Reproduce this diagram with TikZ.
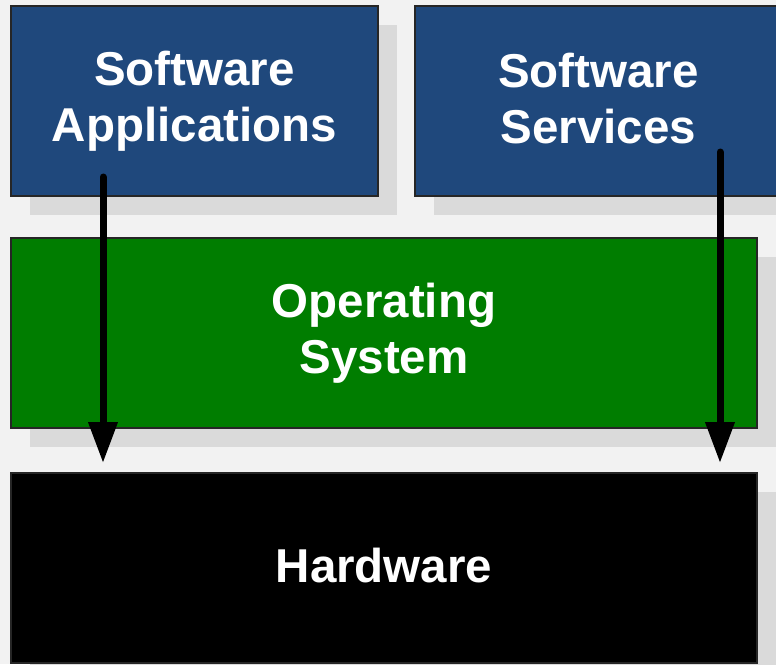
\documentclass[tikz,border=0pt]{standalone}
\usepackage{fontspec}
\setmainfont{Liberation Sans}
\usetikzlibrary{arrows.meta}
\definecolor{pagebg}{HTML}{F2F2F2}
\definecolor{shade}{HTML}{DADADA}
\definecolor{appblue}{HTML}{1F487C}
\definecolor{osgreen}{HTML}{007D00}
% uniform line box so every label sits on the same cap-height centre
\newcommand\capstrut{\rule[-6pt]{0pt}{40pt}}
\tikzset{
  layer/.style={draw=black!85, line width=1.1pt, text=white,
    font=\fontsize{47.5}{56}\selectfont\bfseries, align=center,
    inner sep=0pt, outer sep=0pt},
  dropshade/.style={fill=shade, draw=none},
  callarrow/.style={line width=7pt, line cap=round,
    -{Triangle[length=41pt,width=28pt]}},
}
\begin{document}
\begin{tikzpicture}[x=1pt,y=-1pt]
  \useasboundingbox (0,0) rectangle (776,664);
  \clip (0,0) rectangle (776,664);
  \fill[pagebg] (0,0) rectangle (776,664);

  % drop shadows
  \fill[dropshade] (30,25) rectangle (397,215);
  \fill[dropshade] (434,25) rectangle (801,215);
  \fill[dropshade] (30,257) rectangle (776,447);
  \fill[dropshade] (30,492) rectangle (776,682);

  % layers
  \node[layer, fill=appblue, minimum width=367pt, minimum height=190pt]
    (apps) at (194.5,101) {\capstrut Software\\\capstrut Applications};
  \node[layer, fill=appblue, minimum width=367pt, minimum height=190pt]
    (svcs) at (598.5,101) {\capstrut Software\\\capstrut Services};
  \node[layer, fill=osgreen, minimum width=746pt, minimum height=190pt]
    (os) at (384,333) {\capstrut Operating\\\capstrut System};
  \node[layer, fill=black, minimum width=746pt, minimum height=190pt]
    (hw) at (384,568) {\capstrut Hardware};

  % calls passing through the operating system
  \coordinate (appsout) at (103,177);
  \coordinate (appsin) at (103,463);
  \coordinate (svcsout) at (720,152);
  \coordinate (svcsin) at (720,463);
  \draw[callarrow] (appsout) -- (appsin);
  \draw[callarrow] (svcsout) -- (svcsin);
\end{tikzpicture}
\end{document}
